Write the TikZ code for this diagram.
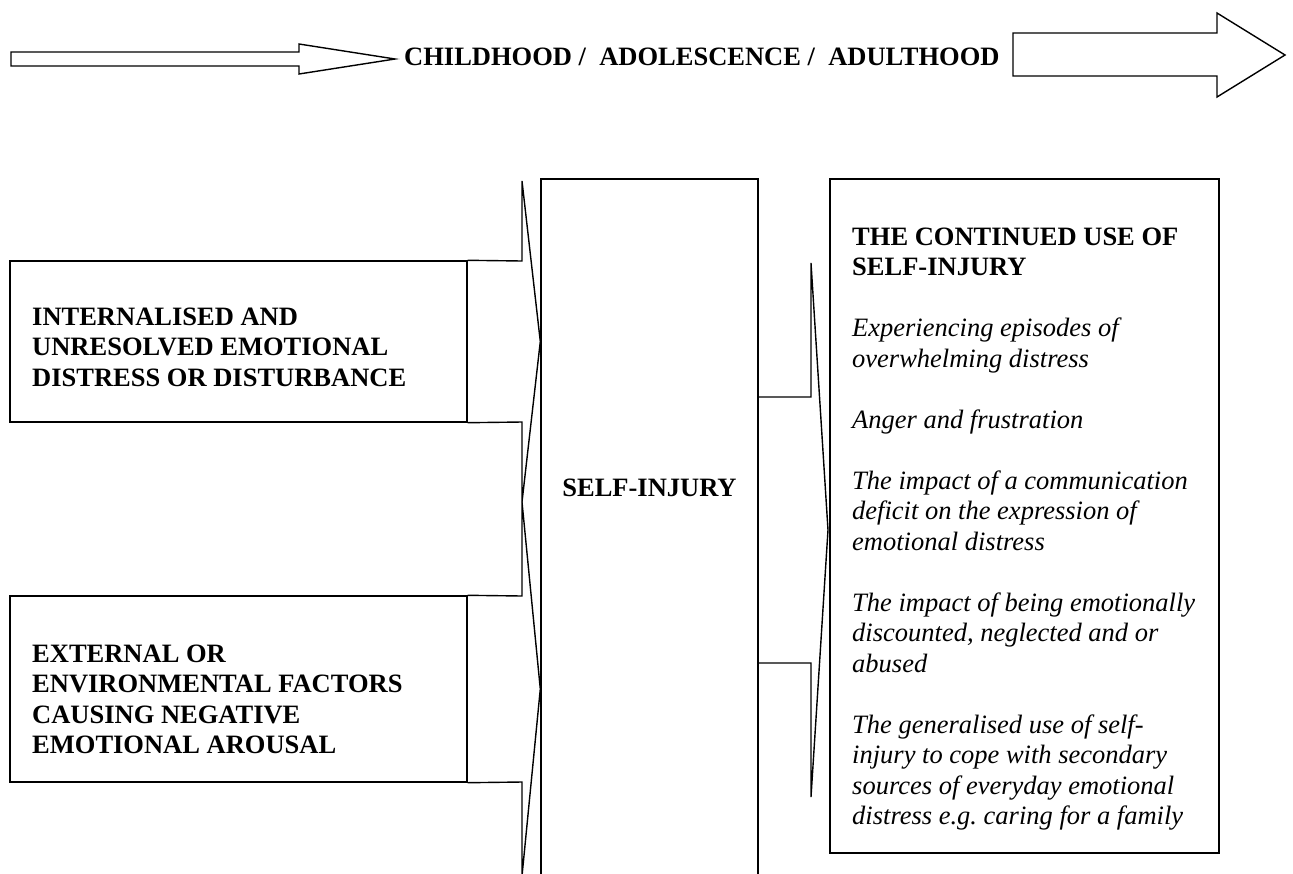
\documentclass[tikz,border=0pt]{standalone}
\usepackage{fontspec}
\setmainfont{Liberation Serif}
\frenchspacing
\newcommand\fsz{\fontsize{26.5}{30.5}\selectfont}
\begin{document}
\begin{tikzpicture}[x=1pt,y=-1pt,
  ln/.style={draw=black, line width=1.4pt, line join=miter},
  box/.style={draw=black, line width=1.4pt, inner sep=0pt, fill=white},
  txt/.style={inner sep=0pt, anchor=base west}]
\useasboundingbox (0,0) rectangle (1293,873);
\clip (0,0) rectangle (1293,873);
\fill[white] (0,0) rectangle (1293,873);

% boxes
\node[box, minimum width=457pt, minimum height=161pt] (b1) at (238.5,341.5) {};
\node[box, minimum width=457pt, minimum height=186pt] (b2) at (238.5,689) {};
\node[box, minimum width=217pt, minimum height=721pt] (c) at (649.5,539.5) {};
\node[box, minimum width=389pt, minimum height=674pt] (r) at (1024.5,516) {};

% callout arrows
\draw[ln] (b1.north east) -- (522,261) -- (522,181) -- (c.west |- b1.east) -- (522,502) -- (522,422) -- (b1.south east);
\draw[ln] (b2.north east) -- (522,596) -- (522,502) -- (c.west |- b2.east) -- (522,876) -- (522,782) -- (b2.south east);
\coordinate (ctip) at (828,530);
\draw[ln] (c.east |- 0,397) -- (811,397) -- (811,263) -- (ctip) -- (811,797) -- (811,663) -- (c.east |- 0,663);

% top timeline
\node[txt] (ttop) at (404,65) {\fsz\bfseries CHILDHOOD /\ \ ADOLESCENCE /\ \ ADULTHOOD};
\coordinate (ttip) at (395,59);
\draw[ln] (11,52) -- (299,52) -- (299,44) -- (ttip) -- (299,74) -- (299,66) -- (11,66) -- cycle;
\draw[ln] (1013,33) -- (1217,33) -- (1217,13) -- (1285,55) -- (1217,97) -- (1217,76) -- (1013,76) -- cycle;

% texts
\node[txt] (t1) at (32,325) {\parbox[t]{420pt}{\fsz\bfseries INTERNALISED AND\\ UNRESOLVED EMOTIONAL\\ DISTRESS OR DISTURBANCE}};
\node[txt] (t2) at (32,662) {\parbox[t]{420pt}{\fsz\bfseries EXTERNAL OR\\ ENVIRONMENTAL FACTORS\\ CAUSING NEGATIVE\\ EMOTIONAL AROUSAL}};
\node[inner sep=0pt, anchor=base] (tc) at (649.5,496) {\fsz\bfseries SELF-INJURY};
\node[txt] (tr) at (852,245) {\parbox[t]{360pt}{\fsz
\textbf{THE CONTINUED USE OF\\ SELF-INJURY}\\[30.5pt]
\itshape Experiencing episodes of\\ overwhelming distress\\[30.5pt]
Anger and frustration\\[30.5pt]
The impact of a communication\\ deficit on the expression of\\ emotional distress\\[30.5pt]
The impact of being emotionally\\ discounted, neglected and or\\ abused\\[30.5pt]
The generalised use of self-\\ injury to cope with secondary\\ sources of everyday emotional\\ distress e.g. caring for a family}};
\end{tikzpicture}
\end{document}
